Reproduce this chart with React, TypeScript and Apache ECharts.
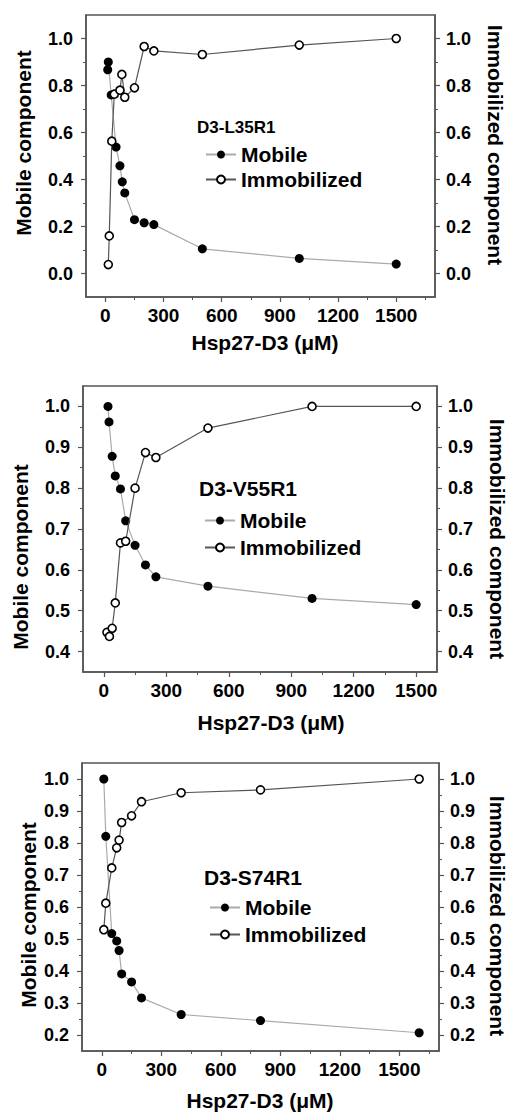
import React, { useEffect, useRef } from "react";
import * as echarts from "echarts";

// ---------- data ----------
const X_TICKS = [0, 300, 600, 900, 1200, 1500];
const X_MINOR = [150, 450, 750, 1050, 1350, 1650];

const P1_Y_TICKS = [0, 0.2, 0.4, 0.6, 0.8, 1.0];
const P1_Y_MINOR = [0.1, 0.3, 0.5, 0.7, 0.9];
const P2_Y_TICKS = [0.4, 0.5, 0.6, 0.7, 0.8, 0.9, 1.0];
const P2_Y_MINOR = [0.45, 0.55, 0.65, 0.75, 0.85, 0.95];
const P3_Y_TICKS = [0.2, 0.3, 0.4, 0.5, 0.6, 0.7, 0.8, 0.9, 1.0];
const P3_Y_MINOR = [0.25, 0.35, 0.45, 0.55, 0.65, 0.75, 0.85, 0.95];

const P1_LABEL = "D3-L35R1";
const P1_MOBILE_X = [12, 15, 30, 55, 75, 87, 100, 150, 200, 250, 500, 1000, 1500];
const P1_MOBILE_Y = [0.867, 0.9, 0.76, 0.538, 0.458, 0.39, 0.343, 0.229, 0.216, 0.208, 0.105, 0.064, 0.04];
const P1_IMMOB_X = [15, 20, 33, 46, 75, 85, 100, 150, 200, 250, 500, 1000, 1500];
const P1_IMMOB_Y = [0.038, 0.16, 0.563, 0.763, 0.78, 0.847, 0.75, 0.79, 0.966, 0.947, 0.932, 0.972, 1.0];

const P2_LABEL = "D3-V55R1";
const P2_MOBILE_X = [20, 25, 40, 55, 80, 105, 150, 200, 250, 500, 1000, 1500];
const P2_MOBILE_Y = [1.0, 0.962, 0.878, 0.83, 0.798, 0.72, 0.66, 0.612, 0.583, 0.56, 0.53, 0.515];
const P2_IMMOB_X = [15, 27, 40, 55, 80, 105, 150, 200, 250, 500, 1000, 1500];
const P2_IMMOB_Y = [0.447, 0.437, 0.457, 0.519, 0.666, 0.67, 0.8, 0.887, 0.875, 0.947, 1.0, 1.0];

const P3_LABEL = "D3-S74R1";
const P3_MOBILE_X = [10, 20, 50, 75, 87, 100, 150, 200, 400, 800, 1600];
const P3_MOBILE_Y = [1.0, 0.821, 0.517, 0.494, 0.464, 0.391, 0.366, 0.316, 0.264, 0.245, 0.207];
const P3_IMMOB_X = [10, 20, 50, 75, 87, 100, 150, 200, 400, 800, 1600];
const P3_IMMOB_Y = [0.529, 0.612, 0.722, 0.785, 0.809, 0.864, 0.885, 0.929, 0.957, 0.966, 1.0];

const X_TITLE = "Hsp27-D3 (μM)";
const Y_LEFT_TITLE = "Mobile component";
const Y_RIGHT_TITLE = "Immobilized component";
const SERIES_NAMES = ["Mobile", "Immobilized"];

// ---------- layout / style ----------
const FONT = 'Arial, "Liberation Sans", Helvetica, sans-serif';
const AXIS_COLOR = "#555";

const PANELS = [
  {
    label: P1_LABEL, labelSize: 17,
    grid: { left: 86, top: 15, width: 349, height: 282 },
    xMax: 1700, yMin: -0.1, yMax: 1.1, yTicks: P1_Y_TICKS, yMinor: P1_Y_MINOR,
    mx: P1_MOBILE_X, my: P1_MOBILE_Y, ix: P1_IMMOB_X, iy: P1_IMMOB_Y,
    labelPos: [197, 127], legendPos: [200, 139], legendGap: 4,
    leftTitle: [23, 143], rightTitle: [495, 145], xTitle: [265, 342],
  },
  {
    label: P2_LABEL, labelSize: 21,
    grid: { left: 83, top: 386, width: 354, height: 286 },
    xMax: 1600, yMin: 0.35, yMax: 1.05, yTicks: P2_Y_TICKS, yMinor: P2_Y_MINOR,
    mx: P2_MOBILE_X, my: P2_MOBILE_Y, ix: P2_IMMOB_X, iy: P2_IMMOB_Y,
    labelPos: [199, 488], legendPos: [199, 505], legendGap: 6,
    leftTitle: [20, 557], rightTitle: [497, 539], xTitle: [271, 722],
  },
  {
    label: P3_LABEL, labelSize: 21,
    grid: { left: 82, top: 763, width: 357, height: 288 },
    xMax: 1700, yMin: 0.15, yMax: 1.05, yTicks: P3_Y_TICKS, yMinor: P3_Y_MINOR,
    mx: P3_MOBILE_X, my: P3_MOBILE_Y, ix: P3_IMMOB_X, iy: P3_IMMOB_Y,
    labelPos: [204, 877], legendPos: [204, 892], legendGap: 6,
    leftTitle: [28, 915], rightTitle: [497, 916], xTitle: [260, 1100],
  },
];

const zip = (xs: number[], ys: number[]) => xs.map((x, i) => [x, ys[i]]);

function buildOption() {
  const grid: any[] = [];
  const xAxis: any[] = [];
  const yAxis: any[] = [];
  const series: any[] = [];
  const legend: any[] = [];
  const graphic: any[] = [];

  PANELS.forEach((p, i) => {
    grid.push({ ...p.grid, show: true, borderColor: AXIS_COLOR, borderWidth: 1.5, backgroundColor: "transparent" });

    const xMinor = X_MINOR.filter((v) => v < p.xMax);
    xAxis.push({
      type: "value", gridIndex: i, position: "bottom", min: -100, max: p.xMax,
      axisLine: { show: true, onZero: false, lineStyle: { color: AXIS_COLOR, width: 1.5 } },
      axisTick: { show: true, length: 5, customValues: X_TICKS, lineStyle: { color: AXIS_COLOR, width: 1.2 } },
      axisLabel: {
        customValues: X_TICKS, formatter: (v: number) => String(Math.round(v)), margin: 9,
        color: "#000", fontSize: 19, fontWeight: "bold", fontFamily: FONT,
      },
      splitLine: { show: false },
    });
    xAxis.push({
      type: "value", gridIndex: i, position: "bottom", min: -100, max: p.xMax,
      axisLine: { show: false, onZero: false },
      axisTick: { show: true, length: 3, customValues: xMinor, lineStyle: { color: AXIS_COLOR, width: 1 } },
      axisLabel: { show: false },
      splitLine: { show: false },
    });

    const fmt = (v: number) => v.toFixed(1);
    (["left", "right"] as const).forEach((pos) => {
      yAxis.push({
        type: "value", gridIndex: i, position: pos, min: p.yMin, max: p.yMax,
        axisLine: { show: true, onZero: false, lineStyle: { color: AXIS_COLOR, width: 1.5 } },
        axisTick: { show: true, length: 5, customValues: p.yTicks, lineStyle: { color: AXIS_COLOR, width: 1.2 } },
        axisLabel: {
          customValues: p.yTicks, formatter: fmt, margin: pos === "left" ? 13 : 11,
          color: "#000", fontSize: 18, fontWeight: "bold", fontFamily: FONT,
        },
        splitLine: { show: false },
      });
      yAxis.push({
        type: "value", gridIndex: i, position: pos, min: p.yMin, max: p.yMax,
        axisLine: { show: false, onZero: false },
        axisTick: { show: true, length: 3, customValues: p.yMinor, lineStyle: { color: AXIS_COLOR, width: 1 } },
        axisLabel: { show: false },
        splitLine: { show: false },
      });
    });

    series.push({
      type: "line", name: SERIES_NAMES[0], xAxisIndex: 2 * i, yAxisIndex: 4 * i,
      data: zip(p.mx, p.my), symbol: "circle", symbolSize: 9,
      itemStyle: { color: "#000" }, lineStyle: { color: "#aaa", width: 1.2 }, z: 3,
    });
    series.push({
      type: "line", name: SERIES_NAMES[1], xAxisIndex: 2 * i, yAxisIndex: 4 * i + 2,
      data: zip(p.ix, p.iy), symbol: "circle", symbolSize: 8,
      itemStyle: { color: "#fff", borderColor: "#000", borderWidth: 1.6 },
      lineStyle: { color: "#555", width: 1.2 }, z: 4,
    });

    legend.push({
      orient: "vertical", left: p.legendPos[0], top: p.legendPos[1],
      itemWidth: 30, itemHeight: 10, itemGap: p.legendGap, selectedMode: false,
      data: SERIES_NAMES,
      textStyle: { fontSize: 21, fontWeight: "bold", color: "#000", fontFamily: FONT },
    });

    graphic.push({
      type: "text", x: p.labelPos[0], y: p.labelPos[1],
      style: { text: p.label, font: `bold ${p.labelSize}px ${FONT}`, fill: "#000", align: "left", verticalAlign: "middle" },
    });
    graphic.push({
      type: "text", x: p.leftTitle[0], y: p.leftTitle[1], rotation: Math.PI / 2,
      style: { text: Y_LEFT_TITLE, font: `bold 21px ${FONT}`, fill: "#000", align: "center", verticalAlign: "middle" },
    });
    graphic.push({
      type: "text", x: p.rightTitle[0], y: p.rightTitle[1], rotation: -Math.PI / 2,
      style: { text: Y_RIGHT_TITLE, font: `bold 21px ${FONT}`, fill: "#000", align: "center", verticalAlign: "middle" },
    });
    graphic.push({
      type: "text", x: p.xTitle[0], y: p.xTitle[1],
      style: { text: X_TITLE, font: `bold 21px ${FONT}`, fill: "#000", align: "center", verticalAlign: "middle" },
    });
  });

  return {
    animation: false,
    backgroundColor: "#fff",
    grid, xAxis, yAxis, series, legend, graphic,
  };
}

export default function App() {
  const ref = useRef<HTMLDivElement>(null);
  useEffect(() => {
    document.body.style.margin = "0";
    if (!ref.current) return;
    const chart = echarts.init(ref.current, undefined, { renderer: "svg" });
    chart.setOption(buildOption() as any);
    return () => chart.dispose();
  }, []);
  return <div ref={ref} style={{ width: 507, height: 1113 }} />;
}
